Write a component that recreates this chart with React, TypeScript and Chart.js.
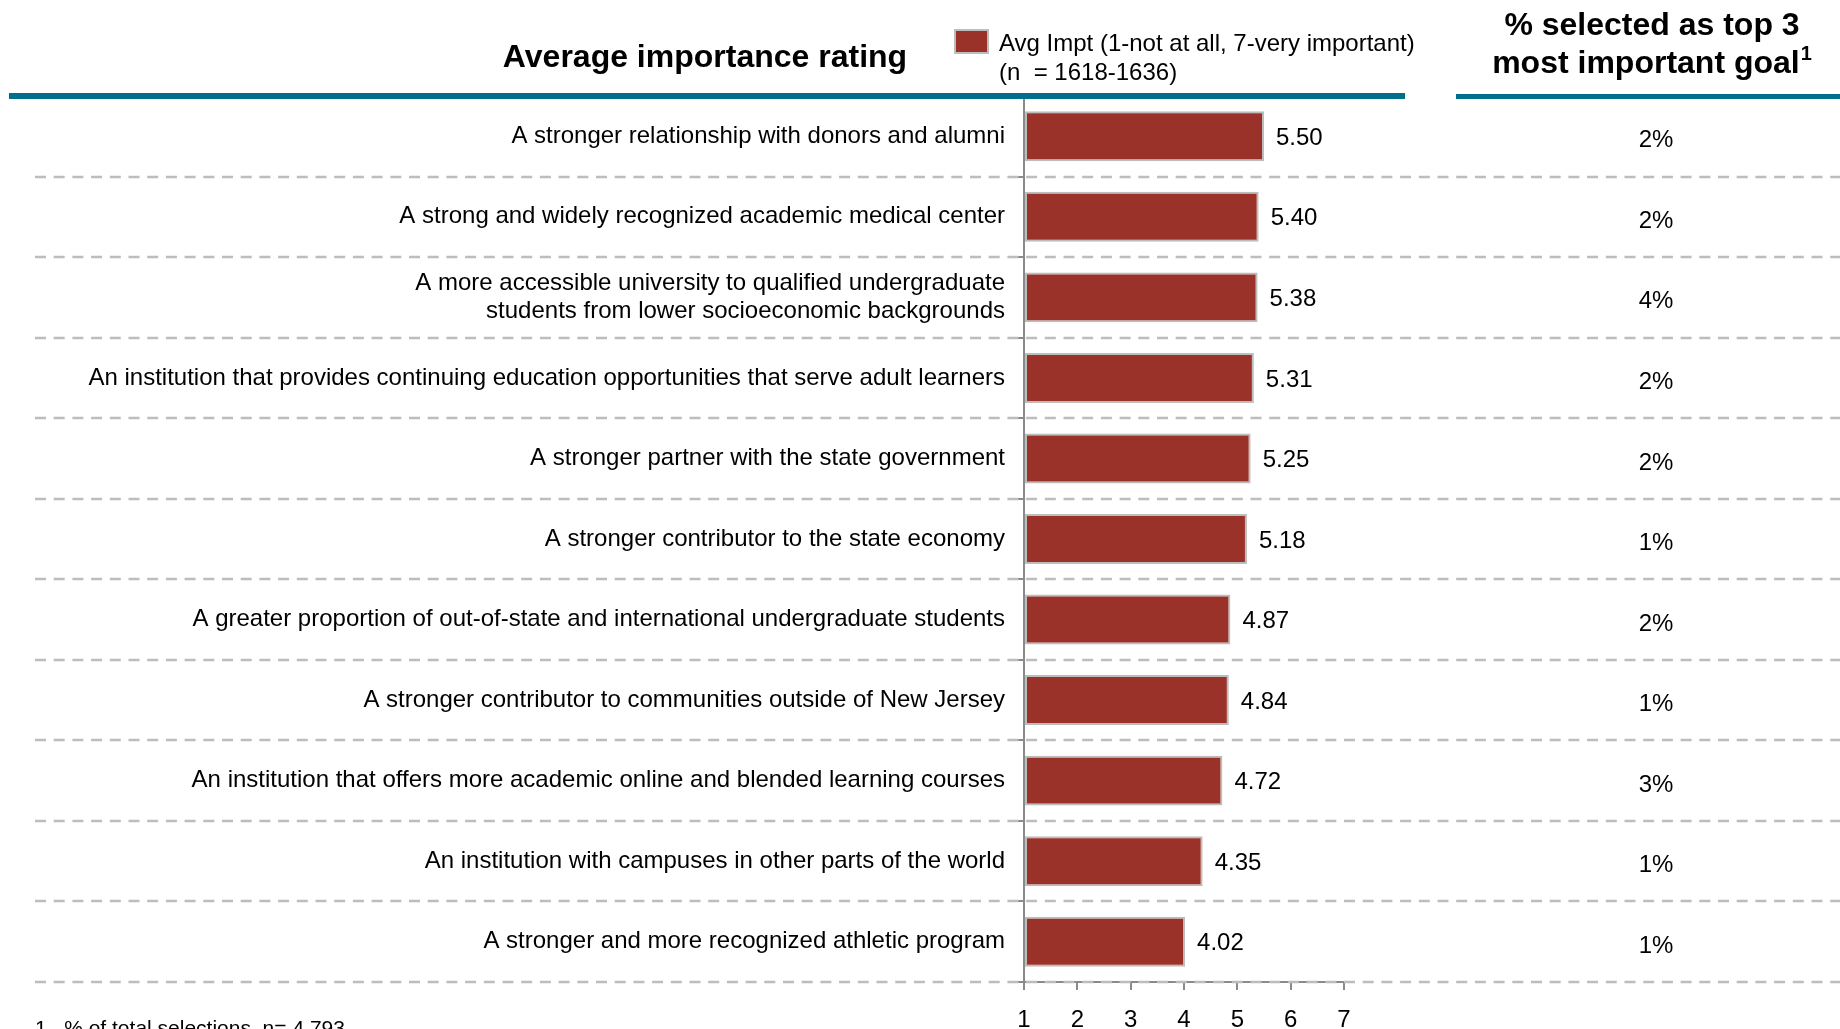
import React, { useEffect, useRef } from 'react';
import { Chart, registerables } from 'chart.js';

Chart.register(...registerables);

const categories: (string | string[])[] = [
  'A stronger relationship with donors and alumni',
  'A strong and widely recognized academic medical center',
  ['A more accessible university to qualified undergraduate', 'students from lower socioeconomic backgrounds'],
  'An institution that provides continuing education opportunities that serve adult learners',
  'A stronger partner with the state government',
  'A stronger contributor to the state economy',
  'A greater proportion of out-of-state and international undergraduate students',
  'A stronger contributor to communities outside of New Jersey',
  'An institution that offers more academic online and blended learning courses',
  'An institution with campuses in other parts of the world',
  'A stronger and more recognized athletic program',
];
const avgImportance = [5.5, 5.4, 5.38, 5.31, 5.25, 5.18, 4.87, 4.84, 4.72, 4.35, 4.02];
const topThreePct = [2, 2, 4, 2, 2, 1, 2, 1, 3, 1, 1];
const xMin = 1;
const xMax = 7;
const seriesLabel = 'Avg Impt (1-not at all, 7-very important)';
const seriesNote = '(n  = 1618-1636)';
const leftTitle = 'Average importance rating';
const rightTitleLine1 = '% selected as top 3';
const rightTitleLine2 = 'most important goal';
const rightTitleSup = '1';
const footnote = '1.  % of total selections, n= 4,793';

const FONT = '"Liberation Sans", Arial, Helvetica, sans-serif';
const BAR = '#9A3229';
const BAR_BORDER = '#BDBDBD';
const TEAL = '#006F8B';
const AXIS = '#8A8A8A';

const overlay = {
  id: 'overlay',
  beforeDatasetsDraw(chart: any) {
    const { ctx, scales } = chart;
    const y = scales.y;
    const n = categories.length;
    ctx.save();
    ctx.strokeStyle = '#BDBDBD';
    ctx.lineWidth = 2.5;
    ctx.setLineDash([11, 7.7]);
    for (let i = 0; i < n; i++) {
      const yc = y.getPixelForValue(i);
      const other = i < n - 1 ? y.getPixelForValue(i + 1) : 2 * yc - y.getPixelForValue(i - 1);
      const yb = Math.round((yc + other) / 2);
      ctx.beginPath();
      ctx.moveTo(35, yb);
      ctx.lineTo(1840, yb);
      ctx.stroke();
    }
    ctx.restore();
  },
  afterDraw(chart: any) {
    const { ctx } = chart;
    ctx.save();
    // teal header rules
    ctx.fillStyle = TEAL;
    ctx.fillRect(9, 93, 1396, 6);
    ctx.fillRect(1456, 94, 384, 5);

    // left title
    ctx.fillStyle = '#000';
    ctx.font = `bold 32px ${FONT}`;
    ctx.textAlign = 'center';
    ctx.textBaseline = 'alphabetic';
    ctx.fillText(leftTitle, 705, 67);

    // right title
    ctx.fillText(rightTitleLine1, 1652, 35);
    const w2 = ctx.measureText(rightTitleLine2).width;
    ctx.font = `bold 20px ${FONT}`;
    const ws = ctx.measureText(rightTitleSup).width;
    const start = 1652 - (w2 + ws + 1) / 2;
    ctx.textAlign = 'left';
    ctx.font = `bold 32px ${FONT}`;
    ctx.fillText(rightTitleLine2, start, 73);
    ctx.font = `bold 20px ${FONT}`;
    ctx.fillText(rightTitleSup, start + w2 + 1, 60);

    // legend
    ctx.fillStyle = BAR;
    ctx.fillRect(955, 30, 33, 23);
    ctx.strokeStyle = BAR_BORDER;
    ctx.lineWidth = 2;
    ctx.strokeRect(955, 30, 33, 23);
    ctx.fillStyle = '#000';
    ctx.font = `24px ${FONT}`;
    ctx.textAlign = 'left';
    ctx.fillText(seriesLabel, 999, 51);
    ctx.fillText(seriesNote, 999, 80);

    // value labels and percentages
    const meta = chart.getDatasetMeta(0);
    ctx.textBaseline = 'middle';
    meta.data.forEach((bar: any, i: number) => {
      ctx.textAlign = 'left';
      ctx.fillText(avgImportance[i].toFixed(2), bar.x + 12, bar.y + 2);
      ctx.textAlign = 'center';
      ctx.fillText(`${topThreePct[i]}%`, 1656, bar.y + 4.5);
    });

    // footnote
    ctx.textAlign = 'left';
    ctx.textBaseline = 'alphabetic';
    ctx.font = `21px ${FONT}`;
    ctx.fillText(footnote, 35, 1035);
    ctx.restore();
  },
};

export default function App() {
  const ref = useRef<HTMLCanvasElement | null>(null);
  useEffect(() => {
    document.body.style.margin = '0';
    const canvas = ref.current!;
    const chart = new Chart(canvas, {
      type: 'bar',
      data: {
        labels: categories as any,
        datasets: [
          {
            label: seriesLabel,
            data: avgImportance,
            base: xMin,
            backgroundColor: BAR,
            borderColor: BAR_BORDER,
            borderWidth: 2,
            borderSkipped: false,
            barPercentage: 0.62,
            categoryPercentage: 1,
          } as any,
        ],
      },
      options: {
        indexAxis: 'y',
        animation: false,
        responsive: false,
        devicePixelRatio: 1,
        layout: { padding: { top: 96, right: 496, left: 0, bottom: 0 } },
        plugins: { legend: { display: false }, tooltip: { enabled: false } },
        scales: {
          x: {
            type: 'linear',
            min: xMin,
            max: xMax,
            ticks: {
              stepSize: 1,
              color: '#000',
              padding: 16,
              font: { family: FONT, size: 24, lineHeight: 1.2 },
            },
            grid: { display: true, drawOnChartArea: false, drawTicks: true, tickLength: 8, color: AXIS, lineWidth: 2 },
            border: { display: true, color: AXIS, width: 2 },
            afterFit: (s: any) => {
              s.height = 47;
            },
          },
          y: {
            type: 'category',
            offset: true,
            ticks: {
              color: '#000',
              padding: 11,
              autoSkip: false,
              font: { family: FONT, size: 24, lineHeight: 1.17 },
            },
            grid: { display: true, offset: true, drawOnChartArea: false, drawTicks: true, tickLength: 8, color: AXIS, lineWidth: 2 },
            border: { display: true, color: AXIS, width: 2 },
            afterFit: (s: any) => {
              s.width = 1024;
            },
          },
        },
      },
      plugins: [overlay],
    });
    return () => chart.destroy();
  }, []);
  return (
    <div style={{ position: 'fixed', left: 0, top: 0, width: 1840, height: 1029, background: '#fff' }}>
      <canvas ref={ref} width={1840} height={1029} style={{ display: 'block' }} />
    </div>
  );
}
